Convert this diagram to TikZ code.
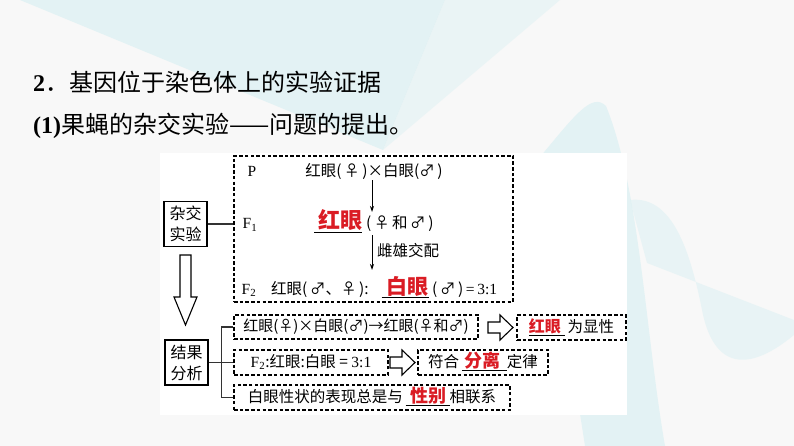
\documentclass[tikz,border=0pt]{standalone}
\usepackage{fontspec}
\setmainfont{Liberation Serif}
\newfontfamily\cjk{Noto Sans CJK SC}
\usetikzlibrary{arrows.meta}
\definecolor{keyred}{RGB}{218,28,36}
\definecolor{bgbase}{RGB}{248,248,248}
\definecolor{bgcyan}{RGB}{222,241,243}
\newcommand{\keyw}[3]{\underline{\hspace{#1}\textcolor{keyred}{\bfseries #3}\hspace{#2}}}
\tikzset{
  head/.style={font=\cjk\fontsize{24}{28}\selectfont, inner sep=0pt},
  txt/.style={font=\cjk\fontsize{15.5}{18}\selectfont, inner sep=0pt, anchor=base},
  solidbox/.style={draw, line width=1.1pt, align=center, minimum width=43pt, minimum height=45pt,
    inner sep=1pt, font=\cjk\fontsize{16}{21}\selectfont},
  dashbox/.style={draw, dash pattern=on 3.5pt off 2.2pt, line width=1.1pt, inner sep=2pt,
    text height=11.5pt, text depth=2.5pt, font=\cjk\fontsize{15.5}{18}\selectfont},
  hollowarr/.style={draw, line width=1.1pt, fill=white, line join=miter},
  link/.style={line width=1.1pt, black!80}
}
\begin{document}
\begin{tikzpicture}[x=1pt,y=-1pt,>={Stealth[length=6pt,width=4pt]}]
    \useasboundingbox (0,0) rectangle (794,446);
    % background
    \fill[bgbase] (0,0) rectangle (794,446);
    \fill[bgcyan, opacity=0.8] (20,0) -- (445,0) -- (383,150) -- cycle;
    \fill[bgcyan, opacity=0.5] (445,0) -- (560,0) -- (383,150) -- cycle;
    \fill[bgcyan, opacity=0.8] (540,157) .. controls (575,115) and (592,92) .. (606,106)
        .. controls (640,190) and (645,330) .. (665,446) -- (585,446) -- cycle;
    \fill[bgcyan, opacity=0.6] (630,200) .. controls (672,195) and (690,250) .. (702,310)
        .. controls (712,362) and (742,378) .. (794,335) -- (794,320) -- (647,263) -- cycle;
    \fill[white] (160,153) rectangle (627,415);

    % headings
    \node[head, anchor=west] (title) at (33,82) {{\rmfamily\bfseries 2}．基因位于染色体上的实验证据};
    \node[head, anchor=west] (sub) at (33,126) {{\rmfamily\bfseries (1)}果蝇的杂交实验——问题的提出。};

    % left boxes
    \node[solidbox] (cross) at (185.5,224) {杂交\\实验};
    \node[solidbox] (res) at (186.5,362.5) {结果\\分析};
    \draw[hollowarr] (180,255) -- (191,255) -- (191,297) -- (197,297) -- (185.5,325)
        -- (174,297) -- (180,297) -- cycle;

    % experiment
    \node[dashbox, minimum width=279pt, minimum height=146pt] (exp) at (373.5,229) {};
    \draw[link] (cross.east) -- (cross.east -| exp.west);

    \node[txt] (P) at (252,177) {\rmfamily P};
    \node[txt] (pcross) at (374,177) {红眼(\,♀\,)×白眼(♂\,)};
    \node[txt] (F1) at (250,229) {\rmfamily F\textsubscript{1}};
    \node[txt, font=\cjk\fontsize{22}{24}\selectfont] (f1key) at (338,229) {\keyw{4pt}{0pt}{红眼}};
    \node[txt, anchor=base west] (f1sex) at (366,229) {(\,♀\,和\,♂\,)};
    \node[txt, anchor=base west] (mate) at (377,256) {雌雄交配};
    \node[txt] (F2) at (249,294) {\rmfamily F\textsubscript{2}};
    \node[txt, anchor=base west] (f2red) at (271,294) {红眼(\,♂、♀\,):};
    \node[txt, font=\cjk\fontsize{21}{24}\selectfont] (f2key) at (405,294) {\keyw{5pt}{0pt}{白眼}};
    \node[txt, anchor=base west] (f2ratio) at (432,294) {(\,♂\,)\rmfamily\,=\,3:1};

    \coordinate (a1) at (372,212);
    \coordinate (a2) at (372,270);
    \draw[->, line width=0.9pt] (pcross.south -| a1) -- (a1);
    \draw[->, line width=0.9pt, shorten <=3pt] (f1sex.south -| a2) -- (a2);

    % analysis
    \node[dashbox, minimum width=244pt, minimum height=24pt, font=\cjk\fontsize{15}{18}\selectfont] (r1)
        at (356,327) {红眼(♀)×白眼(♂)→红眼(♀和♂)};
    \node[dashbox, minimum width=109pt, minimum height=25pt] (r1res) at (571.5,327.5)
        {{\fontsize{16}{18}\selectfont\keyw{0pt}{4pt}{红眼}}\,为显性};
    \node[dashbox, minimum width=154pt, minimum height=25pt] (r2) at (311,362.5)
        {{\rmfamily F\textsubscript{2}}:红眼:白眼 = {\rmfamily 3:1}};
    \node[dashbox, minimum width=130pt, minimum height=25pt] (r2res) at (483,362.5)
        {符合\,{\fontsize{18}{20}\selectfont\keyw{3pt}{6pt}{分离}}定律};
    \node[dashbox, minimum width=276pt, minimum height=25pt] (r3) at (372,397.5)
        {白眼性状的表现总是与\,{\fontsize{18}{20}\selectfont\keyw{5pt}{3pt}{性别}}相联系};

    \draw[link] (res.east) -- (r2.west);
    \draw[link] (r1.west) -- ++(-12,0) |- (r3.west);

    \foreach \ax/\ay in {488/327.5, 390/362.5}
        \draw[hollowarr] (\ax,\ay-5.5) -- (\ax+12,\ay-5.5) -- (\ax+12,\ay-12.5) -- (\ax+25,\ay)
            -- (\ax+12,\ay+12.5) -- (\ax+12,\ay+5.5) -- (\ax,\ay+5.5) -- cycle;
\end{tikzpicture}
\end{document}
